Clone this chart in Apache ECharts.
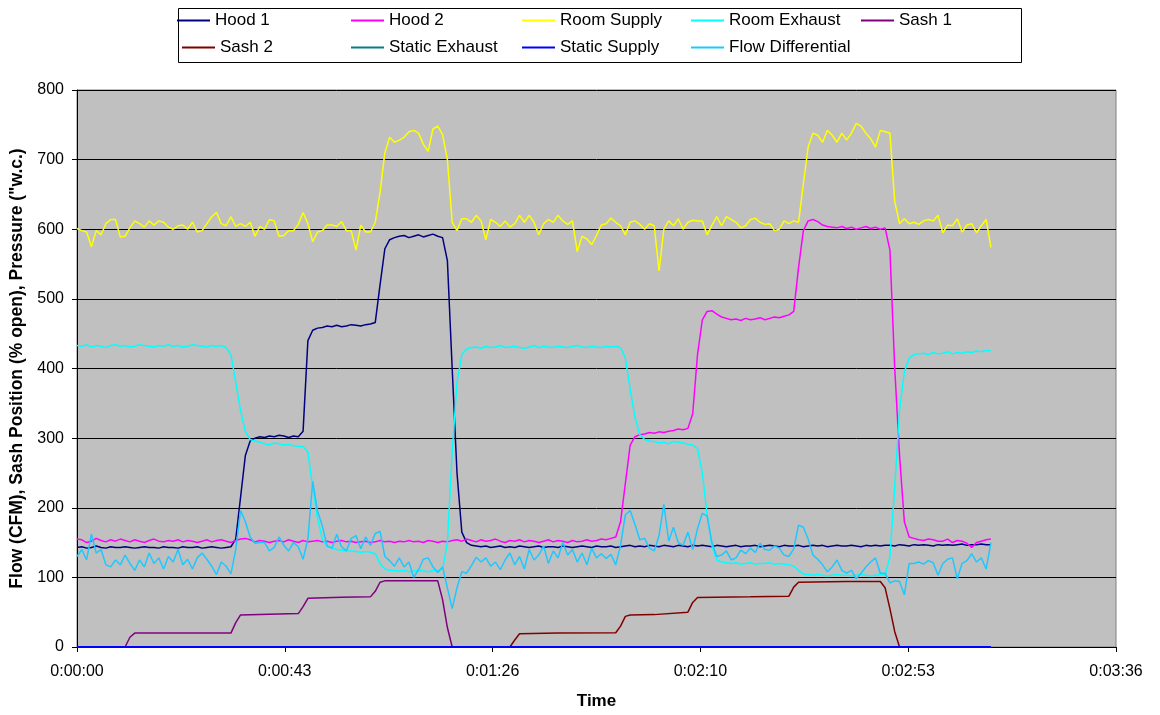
<!DOCTYPE html>
<html><head><meta charset="utf-8">
<script src="https://cdn.jsdelivr.net/npm/echarts@6/dist/echarts.min.js"></script>
<style>html,body{margin:0;padding:0;background:#fff}#c{width:1160px;height:715px}</style>
</head><body><div id="c"></div>
<script>
// sampling interval of the logged series (seconds)
const STEP_SECONDS = 1;

const HOOD_1 = [
143,144,142,143,145,143,142,144,143,143,
144,143,142,143,144,143,143,142,144,143,
143,142,144,143,143,144,142,143,144,143,
142,143,144,155,215,275,296,300,302,301,
303,302,304,303,301,303,302,310,440,455,
458,459,461,460,462,460,461,463,462,461,
463,464,466,520,572,585,588,590,591,588,
590,592,589,591,593,590,588,555,400,250,
165,150,146,145,144,145,143,144,145,143,
144,143,145,144,143,144,145,143,144,144,
143,145,144,143,144,145,144,143,145,144,
144,145,143,144,145,146,144,145,144,146,
145,144,146,145,144,146,145,144,146,145,
146,145,144,146,145,144,145,146,144,145,
145,146,144,145,146,145,144,146,145,145,
146,144,145,146,145,146,144,145,146,145,
145,146,145,144,146,145,146,145,146,146,
145,147,146,145,147,146,147,146,145,147,
146,147,146,147,148,146,147,147,148,147,
147];

const HOOD_2 = [
155,154,150,152,156,153,151,154,152,155,
153,151,154,152,150,153,155,152,151,153,
152,154,151,153,152,150,152,154,151,153,
154,152,150,153,155,156,154,151,153,152,
150,152,153,151,154,152,150,153,151,152,
153,151,152,150,152,153,151,152,150,151,
152,150,151,153,151,152,150,152,151,153,
151,152,150,153,152,150,152,151,153,154,
152,155,153,151,154,152,153,155,152,150,
153,152,154,151,153,152,150,152,154,151,
153,152,150,153,151,152,154,152,153,155,
154,156,158,180,235,290,302,305,306,308,
307,309,308,310,311,313,312,314,335,420,
470,482,483,478,474,472,470,471,469,472,
470,471,473,470,472,474,473,475,477,482,
545,598,612,614,611,606,604,603,602,604,
601,603,600,602,604,601,603,600,602,570,
400,275,180,158,156,154,153,155,154,152,
152,155,150,153,152,149,143,150,152,154,
155];

const ROOM_SUPPLY = [
601,598,596,575,598,592,608,614,614,589,
590,602,612,608,603,612,606,612,610,603,
600,605,606,600,610,596,598,608,618,624,
608,605,618,604,608,604,610,590,604,600,
614,612,590,591,598,598,607,624,608,582,
596,598,606,606,604,611,598,598,570,606,
596,596,610,653,710,732,725,728,732,740,
742,738,722,712,744,748,736,700,610,598,
615,615,610,620,612,585,614,610,604,612,
603,608,620,610,620,610,592,608,614,610,
620,612,607,612,568,590,586,578,591,606,
608,616,610,605,592,610,612,607,600,608,
605,540,600,612,605,615,600,610,613,612,
612,592,606,618,605,618,614,610,602,605,
614,616,610,607,608,598,600,612,608,612,
610,665,718,738,735,725,742,735,725,738,
728,738,752,748,738,730,718,742,740,738,
640,608,615,608,610,607,612,614,612,620,
595,606,605,615,596,606,608,595,605,614,
574];

const ROOM_EXHAUST = [
433,432,434,431,433,432,430,433,434,432,
433,431,432,434,433,432,431,433,432,434,
432,433,431,432,434,433,432,431,433,432,
433,430,420,380,340,310,298,296,294,292,
290,293,292,290,291,289,288,288,280,230,
185,155,145,142,140,139,138,138,137,136,
137,136,134,120,112,110,110,109,110,108,
109,110,109,108,110,110,112,150,280,380,
420,428,430,431,429,432,430,431,433,430,
431,432,430,429,431,433,430,432,431,430,
432,431,430,432,433,431,430,432,431,430,
432,431,432,430,415,370,330,305,298,296,
295,293,294,292,295,294,293,291,290,285,
250,190,145,125,122,121,120,121,119,120,
121,119,120,120,121,119,120,119,118,116,
110,105,104,103,104,103,102,103,104,103,
103,102,103,104,103,102,103,104,103,130,
230,340,395,415,420,421,422,420,423,421,
422,424,421,423,422,424,423,425,424,426,
425];

const FLOW_DIFFERENTIAL = [
130,140,125,162,135,140,118,115,125,118,
132,120,110,125,115,135,120,128,112,130,
122,140,118,126,112,128,135,126,116,104,
122,116,105,140,196,180,158,149,150,150,
138,143,158,146,138,150,144,126,155,238,
195,174,145,142,162,144,138,156,160,141,
158,146,163,166,130,124,116,128,115,122,
100,111,126,128,115,107,115,85,55,85,
108,106,117,129,122,128,116,122,111,125,
135,118,130,112,140,125,132,145,120,138,
128,150,132,140,122,135,118,142,128,134,
127,133,118,146,190,196,176,154,156,142,
138,160,205,152,172,150,146,165,140,170,
192,188,150,130,132,138,125,128,139,134,
142,136,149,140,139,145,142,132,130,141,
175,172,155,132,126,118,108,115,125,110,
106,110,98,106,115,122,128,106,106,92,
95,94,75,120,120,122,119,124,121,103,
120,126,128,98,120,124,134,122,128,112,
150];

// sash positions: breakpoints (seconds, % open)
const SASH_1_TIME = [0,10,11,12,20,32,33,34,40,46,47,48,55,61,62,63,64,70,75,76,77,78,190];
const SASH_1      = [0,0,14,20,20,20,35,46,47,48,58,70,71.5,72,80,93,95,95,95,68,28,0,0];
const SASH_2_TIME = [0,90,91,92,100,112,113,114,115,120,127,128,129,140,148,149,150,160,167,168,169,170,171,190];
const SASH_2      = [0,0,10,19,20,20.5,30,44,46,46.5,50,64,71,72,73,86,93,94,94,85,55,22,0,0];

// static pressures ("w.c.)
const STATIC_TIME    = [0,30,60,90,120,150,190];
const STATIC_EXHAUST = [-0.06,-0.05,-0.06,-0.05,-0.06,-0.05,-0.06];
const STATIC_SUPPLY  = [0.04,0.05,0.04,0.05,0.04,0.05,0.04];

const SERIES_NAMES = ['Hood 1','Hood 2','Room Supply','Room Exhaust','Sash 1','Sash 2','Static Exhaust','Static Supply','Flow Differential'];
const COLORS = ['#000080','#ff00ff','#ffff00','#00ffff','#800080','#800000','#008080','#0000ff','#1ec8ff'];

const X_MAX = 216, X_INTERVAL = 43.2;
const Y_MAX = 800, Y_INTERVAL = 100;

const FONT = "'Liberation Sans', Arial, sans-serif";

function sampled(vals){ return vals.map((v,i)=>[i*STEP_SECONDS, v]); }
function paired(times, vals){ return times.map((t,i)=>[t, vals[i]]); }
function hms(v){
  const s = Math.round(v);
  const h = Math.floor(s/3600), m = Math.floor((s%3600)/60), ss = s%60;
  return h + ':' + String(m).padStart(2,'0') + ':' + String(ss).padStart(2,'0');
}

const dataSets = [
  sampled(HOOD_1), sampled(HOOD_2), sampled(ROOM_SUPPLY), sampled(ROOM_EXHAUST),
  paired(SASH_1_TIME, SASH_1), paired(SASH_2_TIME, SASH_2),
  paired(STATIC_TIME, STATIC_EXHAUST), paired(STATIC_TIME, STATIC_SUPPLY),
  sampled(FLOW_DIFFERENTIAL)
];

const series = SERIES_NAMES.map((name,i)=>({
  name, type:'line', data:dataSets[i], showSymbol:false, symbol:'none',
  color: COLORS[i],
  lineStyle:{ color: COLORS[i], width: (i===7||i===6) ? 2 : 1.5 },
  clip: !(i>=4 && i<=7),
  emphasis:{ disabled:true }, animation:false, z: 2 + i*0.01
}));

// legend layout: two rows, fixed columns
const LEGEND_COLS = [177, 351, 522, 691, 861];
const LEGEND_ROWS = [12, 39];
const legendPos = [[0,0],[1,0],[2,0],[3,0],[4,0],[0,1],[1,1],[2,1],[3,1]];
const legends = SERIES_NAMES.map((name,i)=>({
  data:[name], left: LEGEND_COLS[legendPos[i][0]] + (i===5 ? 5 : 0), top: LEGEND_ROWS[legendPos[i][1]],
  padding:0, itemWidth:33, itemHeight:2, icon:'rect', selectedMode:false,
  itemGap: 0,
  textStyle:{ fontSize:17, color:'#000', fontFamily:FONT, padding:[0,0,0,0] }
}));

const chart = echarts.init(document.getElementById('c'), null, {renderer:'canvas'});
chart.setOption({
  animation:false,
  backgroundColor:'#fff',
  textStyle:{ fontFamily:FONT },
  graphic:[{ type:'rect', shape:{ x:178.5, y:8.5, width:843, height:54 },
             style:{ fill:'#fff', stroke:'#000', lineWidth:1 }, z:-1 }],
  legend: legends,
  grid:{ left:77, right:44, top:90, bottom:64, show:true, backgroundColor:'#c0c0c0',
         borderColor:'#808080', borderWidth:1 },
  xAxis:{
    type:'value', min:0, max:X_MAX, interval:X_INTERVAL,
    name:'Time', nameLocation:'middle', nameGap:46,
    nameTextStyle:{ fontSize:17, fontWeight:'bold', color:'#000', fontFamily:FONT },
    axisLine:{ show:true, onZero:false, lineStyle:{ color:'#000', width:1 } },
    axisTick:{ show:true, length:5, lineStyle:{ color:'#000' } },
    axisLabel:{ formatter:hms, fontSize:16, color:'#000', margin:17, fontFamily:FONT },
    splitLine:{ show:false }
  },
  yAxis:{
    type:'value', min:0, max:Y_MAX, interval:Y_INTERVAL,
    name:'Flow (CFM), Sash Position (% open), Pressure ("w.c.)', nameLocation:'middle', nameGap:51,
    nameTextStyle:{ fontSize:17.5, fontWeight:'bold', color:'#000', fontFamily:FONT },
    axisLine:{ show:true, lineStyle:{ color:'#000', width:1 } },
    axisTick:{ show:true, length:5, lineStyle:{ color:'#000' } },
    axisLabel:{ fontSize:16, color:'#000', margin:13, fontFamily:FONT },
    splitLine:{ show:true, lineStyle:{ color:'#000', width:1 } }
  },
  series
});
</script>
</body></html>
